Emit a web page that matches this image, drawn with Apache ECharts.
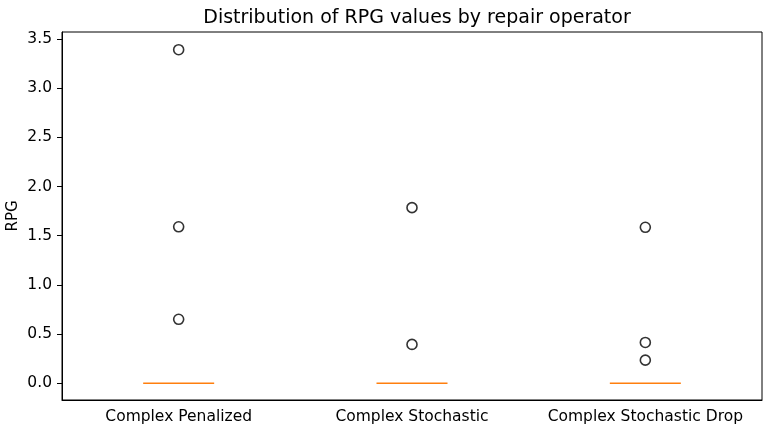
<!DOCTYPE html>
<html>
<head>
<meta charset="utf-8">
<script src="https://cdn.jsdelivr.net/npm/echarts@6/dist/echarts.min.js"></script>
<style>
  html, body { margin: 0; padding: 0; background: #fff; }
  #chart { width: 770px; height: 434px; }
</style>
</head>
<body>
<div id="chart"></div>
<script>
var operators = ['Complex Penalized', 'Complex Stochastic', 'Complex Stochastic Drop'];
// five-number summary per operator: min, q1, median, q3, max
var boxStats = [
  [0, 0, 0, 0, 0],
  [0, 0, 0, 0, 0],
  [0, 0, 0, 0, 0]
];
// outliers: [operator index, value]
var outliers = [
  [0, 3.39], [0, 1.59], [0, 0.65],
  [1, 1.785], [1, 0.395],
  [2, 1.585], [2, 0.415], [2, 0.235]
];
var yTicks = [0, 0.5, 1.0, 1.5, 2.0, 2.5, 3.0, 3.5];

var chart = echarts.init(document.getElementById('chart'), null, {renderer: 'canvas'});
var font = 'DejaVu Sans';

chart.setOption({
  animation: false,
  backgroundColor: '#fff',
  title: {
    text: 'Distribution of RPG values by repair operator',
    left: 412, top: 4, textAlign: 'center',
    textStyle: {fontFamily: font, fontSize: 19, fontWeight: 'normal', color: '#000'}
  },
  grid: {
    left: 62, right: 8, top: 32, bottom: 34,
    containLabel: false, outerBoundsMode: 'none',
    show: true, borderColor: '#000', borderWidth: 1
  },
  xAxis: {
    type: 'category',
    data: operators,
    axisLine: {onZero: false, lineStyle: {color: '#000', width: 1}},
    axisTick: {alignWithLabel: true, length: 5, lineStyle: {color: '#000'}},
    axisLabel: {fontFamily: font, fontSize: 15.5, color: '#000', margin: 9, interval: 0, hideOverlap: false},
    splitLine: {show: false}
  },
  yAxis: {
    type: 'value',
    min: -0.17, max: 3.57,
    name: 'RPG',
    nameLocation: 'middle', nameGap: 41, nameMoveOverlap: false,
    nameTextStyle: {fontFamily: font, fontSize: 15, color: '#000'},
    axisLine: {show: true, lineStyle: {color: '#000', width: 1}},
    axisTick: {show: true, length: 5, customValues: yTicks, lineStyle: {color: '#000'}},
    axisLabel: {
      fontFamily: font, fontSize: 15.5, color: '#000', margin: 10,
      customValues: yTicks,
      formatter: function (v) { return v.toFixed(1); }
    },
    splitLine: {show: false}
  },
  series: [
    {
      type: 'boxplot',
      data: boxStats,
      boxWidth: [71, 71],
      itemStyle: {color: 'transparent', borderColor: '#ff7f0e', borderWidth: 1.5}
    },
    {
      type: 'scatter',
      data: outliers,
      symbol: 'circle',
      symbolSize: 10,
      itemStyle: {color: '#fff', borderColor: '#000', borderWidth: 1.6}
    }
  ]
});
</script>
</body>
</html>
